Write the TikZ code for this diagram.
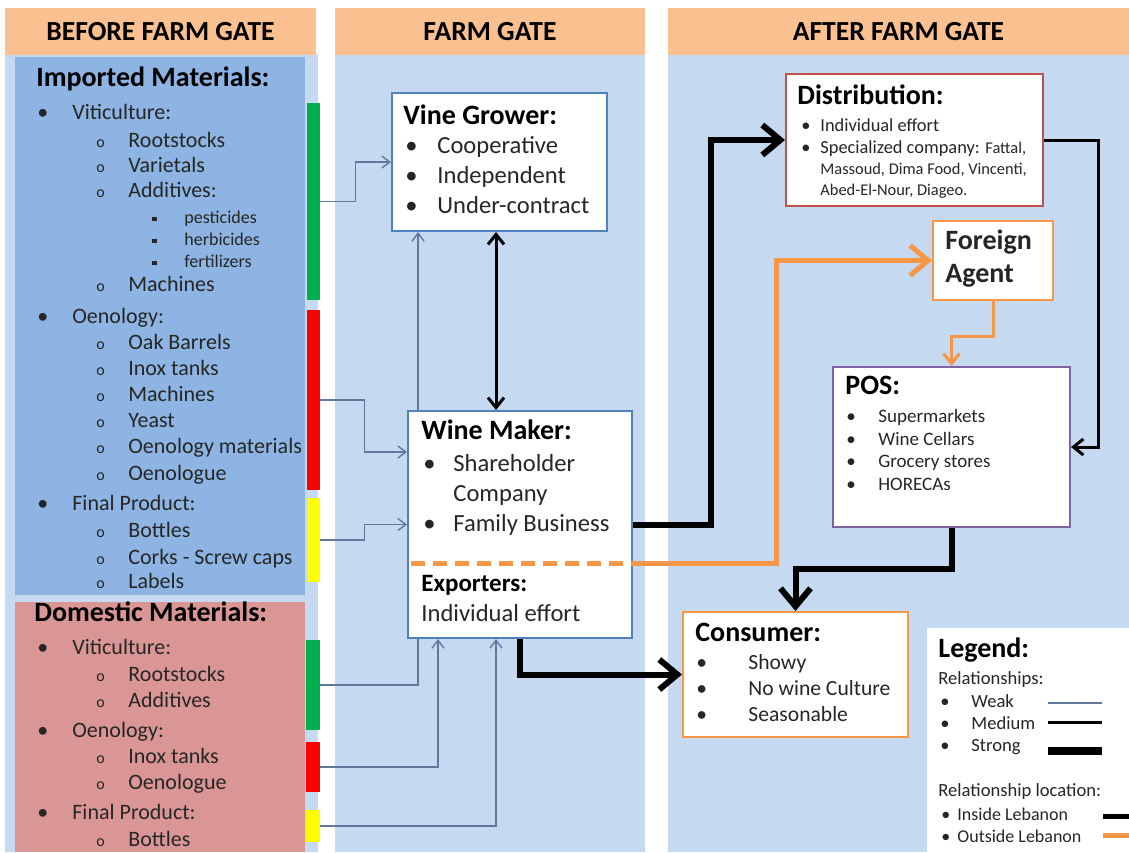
\documentclass[tikz,border=0pt]{standalone}
\usepackage{fontspec}
\setmainfont{Carlito}
\usetikzlibrary{arrows.meta,fit}
\pgfdeclarelayer{bg}
\pgfdeclarelayer{wires}
\pgfsetlayers{bg,wires,main}

\definecolor{hdrc}{RGB}{250,192,143}
\definecolor{colbg}{RGB}{197,217,241}
\definecolor{impbg}{RGB}{141,180,226}
\definecolor{dombg}{RGB}{218,150,148}
\definecolor{barG}{RGB}{0,176,80}
\definecolor{barR}{RGB}{255,0,0}
\definecolor{barY}{RGB}{255,255,0}
\definecolor{bluebd}{RGB}{79,129,189}
\definecolor{redbd}{RGB}{192,80,77}
\definecolor{orangec}{RGB}{247,150,70}
\definecolor{purplebd}{RGB}{128,100,162}
\definecolor{weakc}{RGB}{95,120,155}
\definecolor{txtc}{RGB}{38,38,38}

\begin{document}
\begin{tikzpicture}[x=0.5pt,y=-0.5pt,
  hdr/.style={fill=hdrc,inner sep=0pt,font=\fontsize{13.8}{16}\selectfont\bfseries},
  box/.style={draw=#1,fill=white,line width=1pt,inner sep=0pt},
  bar/.style={fill=#1,draw=none,inner sep=0pt},
  hd/.style={anchor=mid west,inner sep=0pt,font=\fontsize{14}{16}\selectfont\bfseries},
  tx/.style={anchor=mid west,inner sep=0pt,text=txtc},
  bl/.style={tx,execute at begin node={\makebox[#1][l]{\textbullet}}},
  lv1/.style={bl=17.5pt,font=\fontsize{11}{13}\selectfont},
  lv2/.style={tx,xshift=29.5pt,font=\fontsize{11}{13}\selectfont,
    execute at begin node={\makebox[16pt][l]{\fontsize{8}{8}\selectfont o}}},
  lv3/.style={tx,xshift=57.5pt,font=\fontsize{9}{10}\selectfont,
    execute at begin node={\makebox[16pt][l]{\rule[0.3ex]{2.3pt}{2.3pt}}}},
  weak/.style={draw=weakc,line width=0.7pt,->,>={Straight Barb[length=4pt,width=6pt]}},
  med/.style={draw=black,line width=1.5pt,->,>={Straight Barb[length=5pt,width=8pt]}},
  strong/.style={draw=black,line width=3pt,->,>={Straight Barb[length=9pt,width=15pt]}},
  abroad/.style={draw=orangec,line width=2.5pt,->,>={Straight Barb[length=9pt,width=15pt]}},
]
 \useasboundingbox (0,0) rectangle (1129,852);
 \begin{pgfonlayer}{bg}
  \fill[white] (0,0) rectangle (1129,852);
  \fill[colbg] (5,55) rectangle (318,852); %列1
  \fill[colbg] (335,55) rectangle (645,852); %列2
  \fill[colbg] (668,55) rectangle (1129,852); %列3
 \end{pgfonlayer}

 \node[hdr,minimum width=155.5pt,minimum height=23.5pt] (h1) at (160.5,31.5) {BEFORE FARM GATE};
 \node[hdr,minimum width=155pt,minimum height=23.5pt] (h2) at (490,31.5) {FARM GATE};
 \node[hdr,minimum width=230.5pt,minimum height=23.5pt] (h3) at (898.5,31.5) {AFTER FARM GATE};

 \fill[impbg] (15,57) rectangle (305,595); %輸入
 \fill[dombg] (15,602) rectangle (305,852); %国内

 \node[hd] (imph) at (36,82) {Imported Materials:};
 \foreach \y/\l/\t [count=\i] in {115/1/Viticulture:,143/2/Rootstocks,168/2/Varietals,
   193/2/Additives:,219/3/pesticides,241/3/herbicides,263/3/fertilizers,287/2/Machines,
   319/1/Oenology:,345/2/Oak Barrels,371/2/Inox tanks,397/2/Machines,423/2/Yeast,
   449/2/Oenology materials,476/2/Oenologue,506/1/Final Product:,533/2/Bottles,
   560/2/Corks - Screw caps,584/2/Labels}
   \node[lv\l] (imp\i) at (37,\y) {\t};

 \node[hd] (domh) at (34,617) {Domestic Materials:};
 \foreach \y/\l/\t [count=\i] in {650/1/Viticulture:,677/2/Rootstocks,703/2/Additives,
   733/1/Oenology:,759/2/Inox tanks,785/2/Oenologue,815/1/Final Product:,842/2/Bottles}
   \node[lv\l] (dom\i) at (37,\y) {\t};

 \node[bar=barG,fit={(307,103) (320,300)}] (ig) {};
 \node[bar=barR,fit={(307,310) (320,490)}] (ir) {};
 \node[bar=barY,fit={(307,498) (320,582)}] (iy) {};
 \node[bar=barG,fit={(306,640) (320,730)}] (dg) {};
 \node[bar=barR,fit={(306,742) (320,792)}] (dr) {};
 \node[bar=barY,fit={(306,810) (320,842)}] (dy) {};

 \node[box=bluebd,fit={(392,93) (607,231)}] (vine) {};
 \node[box=bluebd,fit={(408,411) (632,638)}] (wine) {};
 \node[box=redbd,fit={(786,74) (1043,206)}] (dist) {};
 \node[box=orangec,fit={(933,221) (1053,300)}] (fa) {};
 \node[box=purplebd,fit={(833,367) (1070,527)}] (pos) {};
 \node[box=orangec,fit={(683,612) (908,737)}] (cons) {};
 \node[fill=white,inner sep=0pt,fit={(927,628) (1129,852)}] (leg) {};

 \node[hd] (vgh) at (403,120) {Vine Grower:};
 \foreach \y/\t [count=\i] in {149/Cooperative,179/Independent,209/Under-contract}
   \node[bl=16pt,font=\fontsize{12.3}{14}\selectfont] (vg\i) at (405,\y) {\t};

 \node[hd] (wmh) at (421,435) {Wine Maker:};
 \node[bl=15pt,font=\fontsize{12.3}{14}\selectfont] (wm1) at (423,467) {Shareholder};
 \node[tx,font=\fontsize{12.3}{14}\selectfont] (wm2) at (453,497) {Company};
 \node[bl=15pt,font=\fontsize{12.3}{14}\selectfont] (wm3) at (423,527) {Family Business};
 \draw[orangec,line width=2.5pt,dash pattern=on 7pt off 4pt]
   ([xshift=2pt,yshift=-19.25pt]wine.west) -- ([yshift=-19.25pt]wine.east); %点線
 \node[hd,font=\fontsize{12.5}{14}\selectfont\bfseries] (exh) at (421,587) {Exporters:};
 \node[tx,font=\fontsize{12.3}{14}\selectfont] (ex1) at (421,617) {Individual effort};

 \node[hd] (dsh) at (797,100) {Distribution:};
 \node[bl=9.5pt,font=\fontsize{9.2}{11}\selectfont] (ds1) at (801,127) {Individual effort};
 \node[bl=9.5pt,font=\fontsize{9.2}{11}\selectfont] (ds2) at (801,149)
   {Specialized company: {\fontsize{8.2}{10}\selectfont Fattal,}};
 \node[tx,font=\fontsize{8.2}{10}\selectfont] (ds3) at (820,170) {Massoud, Dima Food, Vincenti,};
 \node[tx,font=\fontsize{8.2}{10}\selectfont] (ds4) at (820,191) {Abed-El-Nour, Diageo.};

 \node[hd,text=txtc] (fa1) at (945,245) {Foreign};
 \node[hd,text=txtc] (fa2) at (945,278) {Agent};

 \node[hd] (psh) at (845,390) {POS:};
 \foreach \y/\t [count=\i] in {418/Supermarkets,441/Wine Cellars,463/Grocery stores,486/HORECAs}
   \node[bl=16pt,font=\fontsize{9.5}{11}\selectfont] (ps\i) at (846,\y) {\t};

 \node[hd] (csh) at (695,637) {Consumer:};
 \foreach \y/\t [count=\i] in {665/Showy,691/No wine Culture,717/Seasonable}
   \node[bl=26pt,font=\fontsize{10.8}{12}\selectfont] (cs\i) at (696,\y) {\t};

 \node[hd] (lgh) at (938,653) {Legend:};
 \node[tx,font=\fontsize{9.3}{11}\selectfont] (lg1) at (938,680) {Relationships:};
 \foreach \y/\t [count=\i] in {703/Weak,725/Medium,747/Strong}
   \node[bl=15.5pt,font=\fontsize{9.3}{11}\selectfont] (lr\i) at (940,\y) {\t};
 \node[tx,font=\fontsize{9.3}{11}\selectfont] (lg2) at (938,792) {Relationship location:};
 \node[bl=8pt,font=\fontsize{9}{11}\selectfont] (ll1) at (941,816) {Inside Lebanon};
 \node[bl=8pt,font=\fontsize{9}{11}\selectfont] (ll2) at (941,838) {Outside Lebanon};
 \draw[weakc,line width=0.7pt] (1048,703) -- (1102,703); %弱
 \draw[line width=1.5pt] (1048,722) -- (1102,722); %中
 \draw[line width=4pt] (1048,751) -- (1102,751); %強
 \draw[line width=2.5pt] (1103,816) -- (1129,816); %国内
 \draw[orangec,line width=2.5pt] (1103,835) -- (1129,835); %国外

 \begin{pgfonlayer}{wires}
  \draw[weak] (ig.east) -- ++(35,0) |- (vine.west);
  \draw[weak] (ir.east) -- ++(44,0) |- ([yshift=36.25pt]wine.west);
  \draw[weak] (iy.east) -- ++(44,0) |- (wine.west);
  \draw[weak] (dg.east) -| ([xshift=13.5pt]vine.south west);
  \draw[weak] (dr.east) -| ([xshift=15.5pt]wine.south west);
  \draw[weak] (dy.east) -| ([xshift=44.5pt]wine.south west);
  \draw[med,<->] ([xshift=52.5pt]vine.south west) -- ([xshift=52.5pt]vine.south west |- wine.north);
  \draw[med] (dist.east) -- ++(54,0) |- (pos.east);
  \draw[strong] (wine.east) -- ++(78,0) |- (dist.west);
  \draw[strong] (wine.south) |- (cons.west);
  \draw[strong] (pos.south) -- ++(0,41) -| (cons.north);
  \draw[abroad] ([yshift=-19.25pt]wine.east) -- ++(143,0) |- (fa.west);
  \draw[abroad,line width=1.5pt,>={Straight Barb[length=5pt,width=8pt]}] (fa.south) -- ++(0,35) -| (pos.north);
 \end{pgfonlayer}
\end{tikzpicture}
\end{document}
